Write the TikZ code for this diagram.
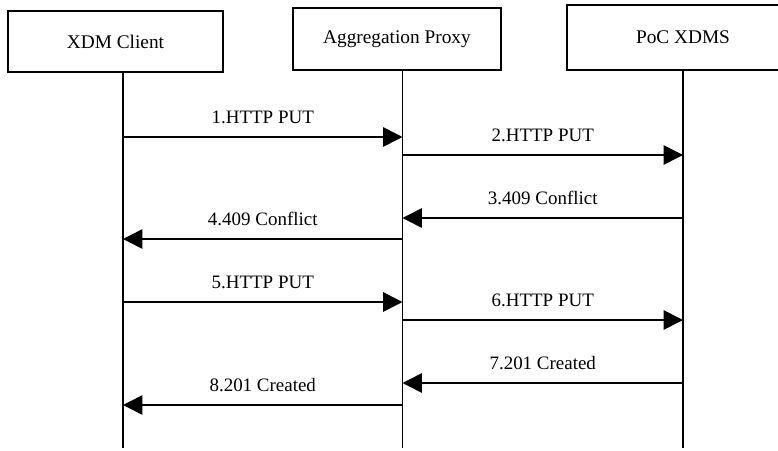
\documentclass[tikz,border=0pt]{standalone}
\usepackage{fontspec}
\setmainfont{Liberation Serif}
\usetikzlibrary{arrows.meta}

\begin{document}
\begin{tikzpicture}[x=0.02cm,y=-0.02cm,
    entity/.style={draw,line width=0.8pt,inner sep=0pt,font=\fontsize{11}{13}\selectfont},
    life/.style={line width=1pt},
    msg/.style={line width=0.9pt,-{Triangle[length=11pt,width=11pt]}},
    msglabel/.style={above=4pt,font=\fontsize{10.8}{13}\selectfont}]
    \useasboundingbox (0,0) rectangle (778,450);
    %entities
    \node[entity,minimum width=4.3cm,minimum height=1.22cm] (client) at (115.5,41.5) {XDM Client};
    \node[entity,minimum width=4.16cm,minimum height=1.24cm] (proxy) at (397,39) {Aggregation Proxy};
    \node[entity,minimum width=4.64cm,minimum height=1.3cm] (xdms) at (683,37.5) {PoC XDMS};
    %lifelines
    \coordinate (cl) at (123,448);
    \coordinate (pl) at (402.5,448);
    \coordinate (sl) at (683,448);
    \draw[life] (client.south -| cl) -- (cl);
    \draw[life] (proxy.south -| pl) -- (pl);
    \draw[life] (xdms.south -| sl) -- (sl);
    %messages
    \foreach \y/\from/\to/\txt in {137/cl/pl/1.HTTP PUT, 155/pl/sl/2.HTTP PUT,
        218/sl/pl/3.409 Conflict, 239/pl/cl/4.409 Conflict,
        302/cl/pl/5.HTTP PUT, 320/pl/sl/6.HTTP PUT,
        383/sl/pl/7.201 Created, 405/pl/cl/8.201 Created}
      \draw[msg] (\from |- 0,\y) -- (\to |- 0,\y) node[midway,msglabel] {\txt};
\end{tikzpicture}
\end{document}
